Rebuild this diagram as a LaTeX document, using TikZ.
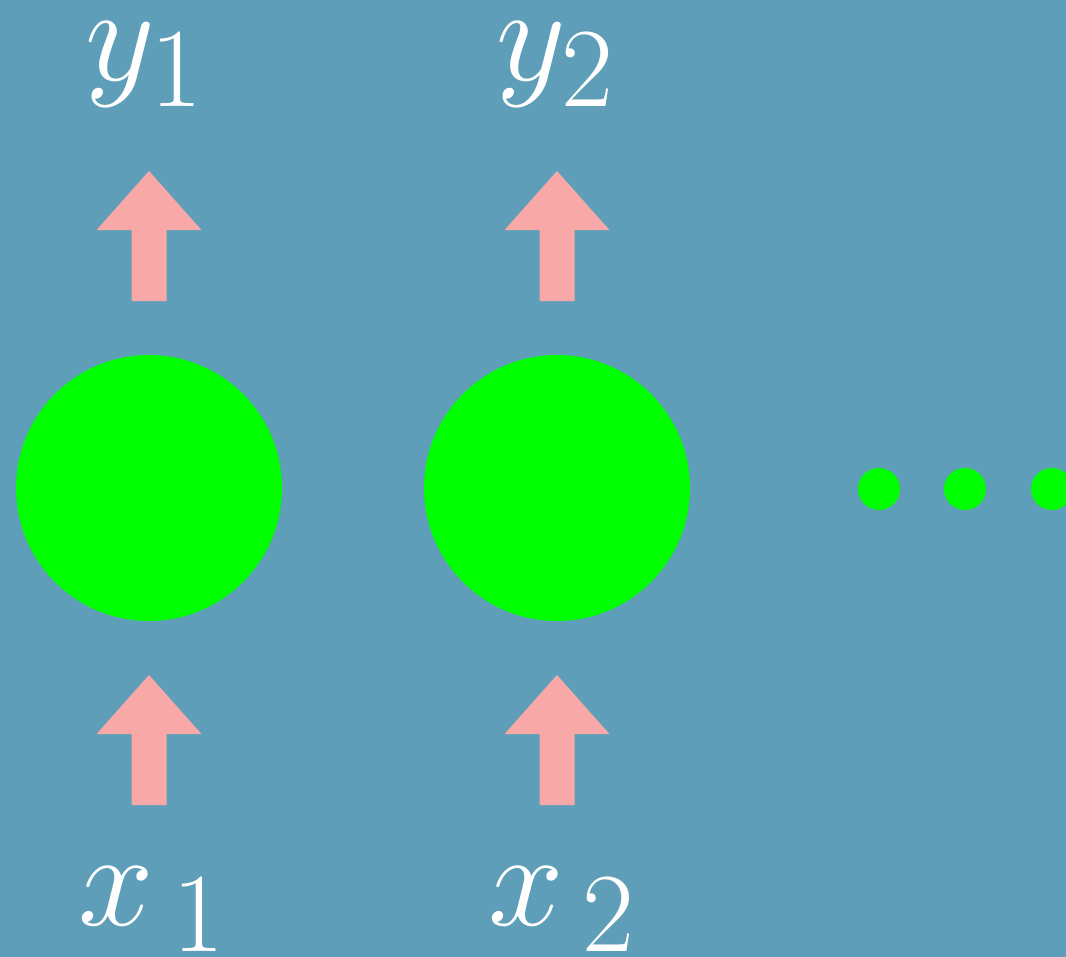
\documentclass[tikz,border=0pt]{standalone}
\usepackage{amsmath}
\usepackage{graphicx}
\newcommand{\biglbl}[1]{\scalebox{3.1}{$#1$}}
\begin{document}
\begin{tikzpicture}[x=0.02cm, y=-0.02cm, unit/.style={circle, fill=rnGreen, inner sep=0pt, minimum size=5.32cm}, lbl/.style={text=white, inner sep=0pt, font=\fontsize{24.88}{30}\selectfont}, blockup/.style={fill=rnPink}, dotfill/.style={fill=rnGreen}]
\definecolor{rnSea}{RGB}{94,158,184}
\definecolor{rnPink}{RGB}{249,168,168}
\definecolor{rnGreen}{RGB}{0,255,0}
\fill[rnSea] (0,0) rectangle (1066,957);
\useasboundingbox (0,0) rectangle (1066,957);
% the two cells
\node[unit] (c1) at (149,488) {};
\node[unit] (c2) at (557,488) {};
% outputs and inputs
\node[lbl] (y1) at (145,64) {\biglbl{y_1}};
\node[lbl] (y2) at (556,64) {\biglbl{y_2}};
\node[lbl] (x1) at (153,909) {\biglbl{x_{\mkern3mu 1}}};
\node[lbl] (x2) at (563,909) {\biglbl{x_{\mkern3mu 2}}};
% block arrows, shaft bottom at the given point
\foreach \cx/\by in {149/301, 557/301, 149/805, 557/805}
  \fill[blockup] (\cx-17.5,\by) -- (\cx-17.5,\by-71) -- (\cx-52.5,\by-71) -- (\cx,\by-130)
    -- (\cx+52.5,\by-71) -- (\cx+17.5,\by-71) -- (\cx+17.5,\by) -- cycle;
% dots to the right
\foreach \dx in {879,965,1052}
  \fill[dotfill] (\dx,489) circle (21);
\end{tikzpicture}
\end{document}
